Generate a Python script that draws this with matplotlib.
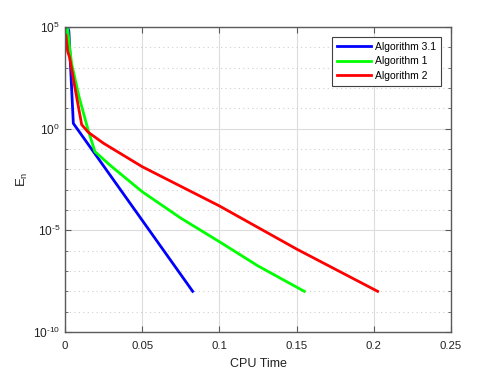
import numpy as np
import matplotlib
matplotlib.use("Agg")
import matplotlib.pyplot as plt
from matplotlib.ticker import NullFormatter, FixedLocator, FuncFormatter

plt.rcParams['font.family'] = ['Liberation Sans', 'DejaVu Sans']
plt.rcParams['mathtext.fontset'] = 'custom'
plt.rcParams['mathtext.rm'] = 'Liberation Sans'

# CPU time vs log10(E_n)
t_alg31 = [0.0006, 0.0017, 0.0025, 0.0054, 0.0827]
e_alg31 = [4.5, 5.0, 4.8, 0.26, -8.0]

t_alg1 = [0.0006, 0.0017, 0.003, 0.0043, 0.0091, 0.0151, 0.0194, 0.03, 0.05,
          0.075, 0.1, 0.125, 0.155]
e_alg1 = [4.4, 4.9, 4.0, 3.2, 1.57, -0.1, -1.13, -1.85, -3.1,
          -4.4, -5.56, -6.75, -8.0]

t_alg2 = [0.0006, 0.0017, 0.003, 0.006, 0.0108, 0.0151, 0.025, 0.05, 0.1,
          0.15, 0.2025]
e_alg2 = [4.6, 3.8, 3.5, 2.2, 0.2, -0.18, -0.72, -1.87, -3.8,
          -5.92, -8.0]

labels = ['Algorithm 3.1', 'Algorithm 1', 'Algorithm 2']
colors = ['#0000ff', '#00ff00', '#ff0000']

fig = plt.figure(figsize=(4.98, 3.74), dpi=100)
ax = fig.add_axes([0.1305, 0.1123, 0.7751, 0.8155])

series = [(t_alg31, e_alg31), (t_alg1, e_alg1), (t_alg2, e_alg2)]
for (t, e), lab, c in zip(series, labels, colors):
    ax.plot(t, 10.0 ** np.array(e), color=c, lw=2.0, label=lab)

ax.set_yscale('log')
ax.set_xlim(0, 0.25)
ax.set_ylim(1e-10, 1e5)
ax.set_xticks([0, 0.05, 0.1, 0.15, 0.2, 0.25])
ax.set_xticklabels(['0', '0.05', '0.1', '0.15', '0.2', '0.25'])
ax.yaxis.set_major_locator(FixedLocator([1e-10, 1e-5, 1e0, 1e5]))
ax.yaxis.set_major_formatter(FuncFormatter(
    lambda v, p: r'$\mathregular{10^{\text{%d}}}$' % round(np.log10(v))))
ax.yaxis.set_minor_locator(FixedLocator([10.0 ** k for k in range(-10, 6)]))
ax.yaxis.set_minor_formatter(NullFormatter())

ax.grid(True, which='major', color='#dcdcdc', lw=0.8, ls='-')
ax.grid(True, which='minor', axis='y', color='#cfcfcf', lw=0.8, ls=(0, (1, 3)))
ax.set_axisbelow(True)

for s in ax.spines.values():
    s.set_color('#5a5a5a')
    s.set_linewidth(1.0)
ax.tick_params(which='both', direction='in', top=True, right=True,
               colors='#5a5a5a', labelcolor='#222222', labelsize=8.2)
ax.tick_params(which='major', length=4)
ax.tick_params(which='minor', length=2.5)
ax.tick_params(axis='x', pad=6.5)
ax.tick_params(axis='y', labelsize=8.6)

ax.set_xlabel('CPU Time', fontsize=9, color='#222222', labelpad=5)
ax.set_ylabel(r'$\mathregular{E_n}$', fontsize=9.5, color='#222222', labelpad=2)

leg = ax.legend(loc='upper right', bbox_to_anchor=(0.974, 0.967),
                borderaxespad=0, fontsize=7.5,
                fancybox=False, framealpha=1, edgecolor='#404040',
                handlelength=3.3, borderpad=0.45, labelspacing=0.45,
                handletextpad=0.4)
leg.get_frame().set_linewidth(0.8)

fig.savefig('out.png', dpi=100)
